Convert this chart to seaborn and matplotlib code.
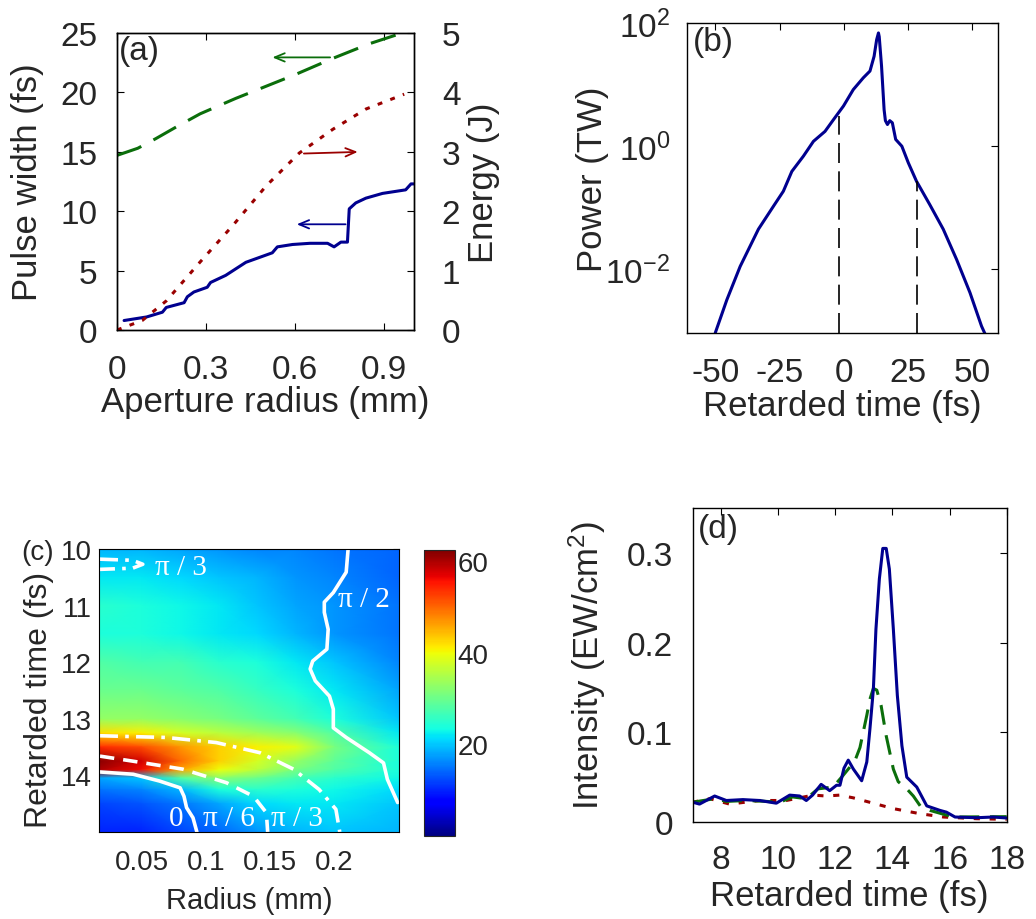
import numpy as np
import matplotlib
matplotlib.use("Agg")
import matplotlib.pyplot as plt
from matplotlib.ticker import NullLocator, FixedLocator
import seaborn as sns

sns.set_theme(style="white")
plt.rcParams["font.family"] = ["Liberation Sans", "DejaVu Sans"]
plt.rcParams["mathtext.fontset"] = "custom"
plt.rcParams["mathtext.rm"] = "Liberation Sans"
plt.rcParams["mathtext.it"] = "Liberation Sans:italic"
plt.rcParams["mathtext.bf"] = "Liberation Sans:bold"
plt.rcParams["axes.unicode_minus"] = False

# ---------------- data: panel (a) ----------------
a_blue_r = [0.024, 0.10, 0.153, 0.166, 0.226, 0.237, 0.259, 0.304, 0.315, 0.366,
            0.434, 0.523, 0.540, 0.591, 0.65, 0.709, 0.731, 0.754, 0.776, 0.782,
            0.804, 0.838, 0.894, 0.972, 0.990, 1.0]
a_blue_w = [0.8, 1.1, 1.5, 1.9, 2.3, 2.8, 3.2, 3.6, 4.0, 4.6,
            5.7, 6.5, 7.0, 7.2, 7.3, 7.3, 7.0, 7.4, 7.4, 10.2,
            10.7, 11.1, 11.5, 11.8, 12.3, 12.3]
a_green_r = [0.0, 0.07, 0.13, 0.2, 0.28, 0.4, 0.5, 0.6, 0.73, 0.85, 0.96]
a_green_w = [14.7, 15.3, 16.1, 17.1, 18.2, 19.5, 20.5, 21.5, 22.9, 24.1, 25.0]
a_red_r = [0.0, 0.085, 0.166, 0.279, 0.39, 0.503, 0.614, 0.727, 0.838, 0.967]
a_red_e = [0.0, 0.16, 0.49, 1.14, 1.76, 2.43, 2.98, 3.38, 3.72, 3.97]

# ---------------- data: panel (b) ----------------
b_t = [-50, -45.5, -40.3, -33.2, -27.3, -23.5, -20.2, -15.7, -11.8, -7.3, -4.0,
       -0.1, 3.7, 7.6, 10.2, 11.8, 12.8, 13.5, 13.8, 14.7, 15.7, 16.2, 17.0, 17.9,
       18.9, 20.2, 22.6, 25.1, 28.3, 33.5, 38.7, 43.9, 49.1, 53.6, 54.9]
b_power = [9.3e-4, 3.2e-3, 1.12e-2, 4.5e-2, 0.107, 0.186, 0.39, 0.69, 1.2, 1.74, 2.7,
           4.5, 8.3, 12.9, 16.6, 28.8, 53.7, 69.0, 60.0, 20.0, 3.9, 2.6, 2.25, 2.6,
           2.4, 1.29, 1.0, 0.54, 0.27, 0.112, 0.045, 0.0145, 4.2e-3, 1.2e-3, 9.1e-4]
b_mark_t = [-1.8, 28.3]
b_mark_top = [3.1, 0.27]

# ---------------- data: panel (c) ----------------
c_radius = [0.017, 0.05, 0.08, 0.11, 0.14, 0.17, 0.20, 0.25]
c_time = [10.0, 10.5, 11.0, 11.5, 12.0, 12.5, 13.0, 13.25, 13.5, 13.75, 13.9,
          14.05, 14.25, 14.5, 15.0]
c_int = [
    [19, 19, 18, 17, 16, 16, 15, 14],
    [22, 22, 21, 20, 19, 17, 16, 14],
    [25, 24, 23, 22, 20, 18, 17, 15],
    [24, 24, 23, 22, 21, 19, 17, 15],
    [28, 27, 27, 25, 24, 22, 20, 16],
    [30, 30, 29, 28, 26, 24, 22, 18],
    [33, 33, 32, 31, 29, 27, 24, 20],
    [42, 41, 38, 36, 34, 32, 28, 22],
    [54, 52, 47, 43, 41, 39, 31, 24],
    [62, 58, 50, 43, 38, 33, 29, 24],
    [60, 56, 46, 40, 36, 31, 28, 24],
    [18, 20, 28, 32, 30, 27, 25, 23],
    [15, 16, 19, 24, 25, 24, 23, 21],
    [12, 13, 15, 18, 21, 22, 22, 20],
    [10, 10, 12, 14, 17, 19, 20, 19],
]
c_pi2_r = [0.2105, 0.209, 0.199, 0.192, 0.192, 0.195, 0.194, 0.183, 0.181, 0.185,
           0.196, 0.199, 0.199, 0.209, 0.227, 0.238, 0.241, 0.249]
c_pi2_t = [10.0, 10.41, 10.77, 10.94, 11.12, 11.42, 11.77, 11.98, 12.12, 12.33,
           12.6, 12.83, 13.16, 13.33, 13.6, 13.78, 14.07, 14.48]
c_pi3_r = [0.0177, 0.069, 0.108, 0.142, 0.168, 0.188, 0.201, 0.204]
c_pi3_t = [13.30, 13.33, 13.42, 13.6, 13.89, 14.25, 14.6, 15.0]
c_pi6_r = [0.0177, 0.0435, 0.082, 0.116, 0.137, 0.147, 0.148]
c_pi6_t = [13.66, 13.75, 13.89, 14.13, 14.37, 14.66, 15.0]
c_zero_r = [0.0177, 0.0435, 0.064, 0.08, 0.083, 0.085, 0.09, 0.093]
c_zero_t = [13.94, 13.98, 14.1, 14.22, 14.37, 14.57, 14.75, 15.0]
c_top_r = [0.0177, 0.043, 0.051, 0.043, 0.0177]
c_top_t = [10.18, 10.2, 10.27, 10.34, 10.36]
c_labels = ["π / 3", "π / 2", "0", "π / 6", "π / 3"]
c_label_r = [0.081, 0.223, 0.077, 0.118, 0.171]
c_label_t = [10.32, 10.885, 14.75, 14.75, 14.75]

# ---------------- data: panel (d) ----------------
d_blue_t = [6.98, 7.24, 7.77, 8.18, 8.76, 9.35, 9.93, 10.4, 10.75, 10.98, 11.2, 11.5,
            11.8, 12.04, 12.16, 12.3, 12.45, 12.63, 12.92, 13.1, 13.21, 13.33, 13.42,
            13.54, 13.66, 13.78, 13.89, 14.03, 14.17, 14.33, 14.5, 14.85, 15.2,
            15.66, 15.89, 16.19, 16.95, 17.53, 18.0]
d_blue_i = [0.0223, 0.020, 0.029, 0.024, 0.025, 0.024, 0.021, 0.030, 0.029, 0.024,
            0.030, 0.042, 0.035, 0.041, 0.041, 0.060, 0.069, 0.059, 0.046, 0.067,
            0.104, 0.148, 0.215, 0.271, 0.305, 0.305, 0.282, 0.215, 0.141, 0.085,
            0.050, 0.039, 0.018, 0.013, 0.011, 0.0056, 0.0048, 0.0056, 0.0045]
d_green_t = [6.98, 7.77, 8.18, 8.88, 9.58, 10.05, 10.5, 10.98, 11.39, 11.92, 12.27,
             12.68, 12.86, 13.1, 13.21, 13.33, 13.45, 13.6, 13.78, 14.03, 14.2, 14.5,
             14.73, 14.97, 15.31, 16.13, 18.0]
d_green_i = [0.022, 0.026, 0.023, 0.024, 0.023, 0.022, 0.028, 0.026, 0.037, 0.039,
             0.052, 0.068, 0.083, 0.119, 0.137, 0.149, 0.147, 0.130, 0.096, 0.059,
             0.045, 0.037, 0.029, 0.018, 0.013, 0.0056, 0.006]
d_red_t = [6.98, 7.6, 8.29, 9.35, 10.28, 11.22, 11.68, 12.15, 12.62, 13.44, 14.02,
           14.96, 15.78, 16.95, 18.0]
d_red_i = [0.022, 0.026, 0.020, 0.024, 0.024, 0.030, 0.029, 0.030, 0.027, 0.020,
           0.015, 0.0093, 0.0056, 0.0037, 0.003]

BLUE = "#00008f"
GREEN = "#0b6e0b"
RED = "#9a0000"
TICK = 24
LAB = 25

fig = plt.figure(figsize=(10.36, 9.2), dpi=100)


def style_box(ax, lw=1.0):
    for s in ax.spines.values():
        s.set_visible(True)
        s.set_color("black")
        s.set_linewidth(lw)


# ---------------- panel (a) ----------------
axa = fig.add_axes([0.1129, 0.6402, 0.2867, 0.3228])
axa2 = axa.twinx()
sns.lineplot(x=a_blue_r, y=a_blue_w, ax=axa, color=BLUE, lw=2.2, sort=False, estimator=None)
sns.lineplot(x=a_green_r, y=a_green_w, ax=axa, color=GREEN, lw=2.2, sort=False,
             estimator=None, linestyle=(0, (8.5, 4.5)))
sns.lineplot(x=a_red_r, y=a_red_e, ax=axa2, color=RED, lw=2.2, sort=False,
             estimator=None, linestyle=(0, (1.6, 2.8)))
axa.set_xlim(0, 1.0)
axa.set_ylim(0, 25)
axa2.set_ylim(0, 5)
axa.set_xticks([0, 0.3, 0.6, 0.9], ["0", "0.3", "0.6", "0.9"])
axa.set_yticks([0, 5, 10, 15, 20, 25])
axa2.set_yticks([0, 1, 2, 3, 4, 5])
axa.tick_params(axis="both", direction="in", length=5, width=0.8, color="black",
                labelsize=TICK, top=True, right=False, left=True, bottom=True)
axa.tick_params(axis="y", pad=14)
axa.tick_params(axis="x", pad=17)
axa2.tick_params(axis="y", direction="in", length=5, width=0.8, color="black",
                 labelsize=TICK, right=True, pad=20)
axa.set_xlabel("Aperture radius (mm)", fontsize=LAB)
axa.set_ylabel("Pulse width (fs)", fontsize=LAB)
axa2.set_ylabel("Energy (J)", fontsize=LAB)
axa.xaxis.set_label_coords(0.5, -0.185)
axa.yaxis.set_label_coords(-0.245, 0.5)
axa2.yaxis.set_label_coords(1.18, 0.5)
style_box(axa)
style_box(axa2)
axa.text(0.005, 0.995, "(a)", transform=axa.transAxes, ha="left", va="top", fontsize=TICK)
axa.annotate("", xy=(0.514, 22.95), xytext=(0.727, 22.95),
             arrowprops=dict(arrowstyle="->,head_length=0.6,head_width=0.25", color=GREEN, lw=1.3))
axa.annotate("", xy=(0.596, 8.9), xytext=(0.779, 8.9),
             arrowprops=dict(arrowstyle="->,head_length=0.6,head_width=0.25", color=BLUE, lw=1.3))
axa2.annotate("", xy=(0.82, 3.0), xytext=(0.62, 2.97),
              arrowprops=dict(arrowstyle="->,head_length=0.6,head_width=0.25", color=RED, lw=1.3))

# ---------------- panel (b) ----------------
axb = fig.add_axes([0.6631, 0.637, 0.3002, 0.3369])
axb.set_yscale("log")
sns.lineplot(x=b_t, y=b_power, ax=axb, color=BLUE, lw=2.2, sort=False, estimator=None)
for t, top in zip(b_mark_t, b_mark_top):
    axb.plot([t, t], [9.3e-4, top], color="black", lw=1.2, linestyle=(0, (12, 5)))
axb.set_xlim(-61, 60)
axb.set_ylim(9.3e-4, 100)
axb.set_xticks([-50, -25, 0, 25, 50])
axb.yaxis.set_major_locator(FixedLocator([1e-2, 1, 1e2]))
axb.yaxis.set_minor_locator(NullLocator())
axb.tick_params(axis="both", direction="in", length=5, width=0.8, color="black",
                labelsize=TICK, top=True, right=True)
axb.tick_params(axis="y", pad=12)
axb.tick_params(axis="x", pad=17)
axb.set_xlabel("Retarded time (fs)", fontsize=LAB)
axb.set_ylabel("Power (TW)", fontsize=LAB)
axb.xaxis.set_label_coords(0.5, -0.18)
axb.yaxis.set_label_coords(-0.25, 0.5)
style_box(axb)
axb.text(0.019, 0.99, "(b)", transform=axb.transAxes, ha="left", va="top", fontsize=TICK)

# ---------------- panel (c) ----------------
axc = fig.add_axes([0.0956, 0.0946, 0.2895, 0.3076])
cax = fig.add_axes([0.4093, 0.0902, 0.0299, 0.3109])
R, T = np.meshgrid(c_radius, c_time)
mesh = axc.pcolormesh(R, T, np.array(c_int, dtype=float), shading="gouraud",
                      cmap="jet", vmin=0, vmax=62.5)
axc.plot(c_pi2_r, c_pi2_t, color="white", lw=2.6)
axc.plot(c_zero_r, c_zero_t, color="white", lw=2.6)
axc.plot(c_pi6_r, c_pi6_t, color="white", lw=2.6, linestyle=(0, (4, 2.5)))
axc.plot(c_pi3_r, c_pi3_t, color="white", lw=2.6, linestyle=(0, (5, 2, 1, 2)))
axc.plot(c_top_r, c_top_t, color="white", lw=2.6, linestyle=(0, (5, 2, 1, 2)))
for lab, r, t in zip(c_labels, c_label_r, c_label_t):
    axc.text(r, t, lab, color="white", fontsize=21, ha="center", va="center",
             family=["Liberation Serif", "DejaVu Serif"])
axc.set_xlim(0.017, 0.25)
axc.set_ylim(15, 10)
axc.set_xticks([0.05, 0.1, 0.15, 0.2], ["0.05", "0.1", "0.15", "0.2"])
axc.set_yticks([10, 11, 12, 13, 14])
axc.tick_params(axis="both", direction="in", length=4, width=0.8, color="#222222",
                labelsize=20, top=True, right=True)
axc.tick_params(axis="y", pad=5)
axc.tick_params(axis="x", pad=12)
axc.set_xlabel("Radius (mm)", fontsize=21)
axc.set_ylabel("Retarded time (fs)", fontsize=23)
axc.xaxis.set_label_coords(0.5, -0.19)
axc.yaxis.set_label_coords(-0.15, 0.47)
style_box(axc, 0.8)
fig.text(38 / 1036, 1 - 553 / 920, "(c)", fontsize=20, ha="center", va="center")
cb = fig.colorbar(mesh, cax=cax)
cb.set_ticks([20, 40, 60])
cb.outline.set_linewidth(0.8)
cax.tick_params(direction="in", length=4, width=0.8, labelsize=20, right=True,
                left=True, pad=2, color="#222222")

# ---------------- panel (d) ----------------
axd = fig.add_axes([0.6686, 0.1054, 0.3031, 0.3413])
sns.lineplot(x=d_red_t, y=d_red_i, ax=axd, color=RED, lw=2.2, sort=False,
             estimator=None, linestyle=(0, (2.0, 3.2)))
sns.lineplot(x=d_green_t, y=d_green_i, ax=axd, color=GREEN, lw=2.2, sort=False,
             estimator=None, linestyle=(0, (6.5, 3.5)))
sns.lineplot(x=d_blue_t, y=d_blue_i, ax=axd, color=BLUE, lw=2.2, sort=False, estimator=None)
axd.set_xlim(7, 18)
axd.set_ylim(0, 0.35)
axd.set_xticks([8, 10, 12, 14, 16, 18])
axd.set_yticks([0, 0.1, 0.2, 0.3], ["0", "0.1", "0.2", "0.3"])
axd.tick_params(axis="both", direction="in", length=5, width=0.8, color="black",
                labelsize=TICK, top=True, right=True)
axd.tick_params(axis="y", pad=14)
axd.tick_params(axis="x", pad=16)
axd.set_xlabel("Retarded time (fs)", fontsize=LAB)
axd.set_ylabel("Intensity (EW/cm$^2$)", fontsize=LAB)
axd.xaxis.set_label_coords(0.5, -0.18)
axd.yaxis.set_label_coords(-0.27, 0.5)
style_box(axd)
axd.text(0.017, 0.985, "(d)", transform=axd.transAxes, ha="left", va="top", fontsize=TICK)

fig.savefig("out.png", dpi=100, facecolor="white")
